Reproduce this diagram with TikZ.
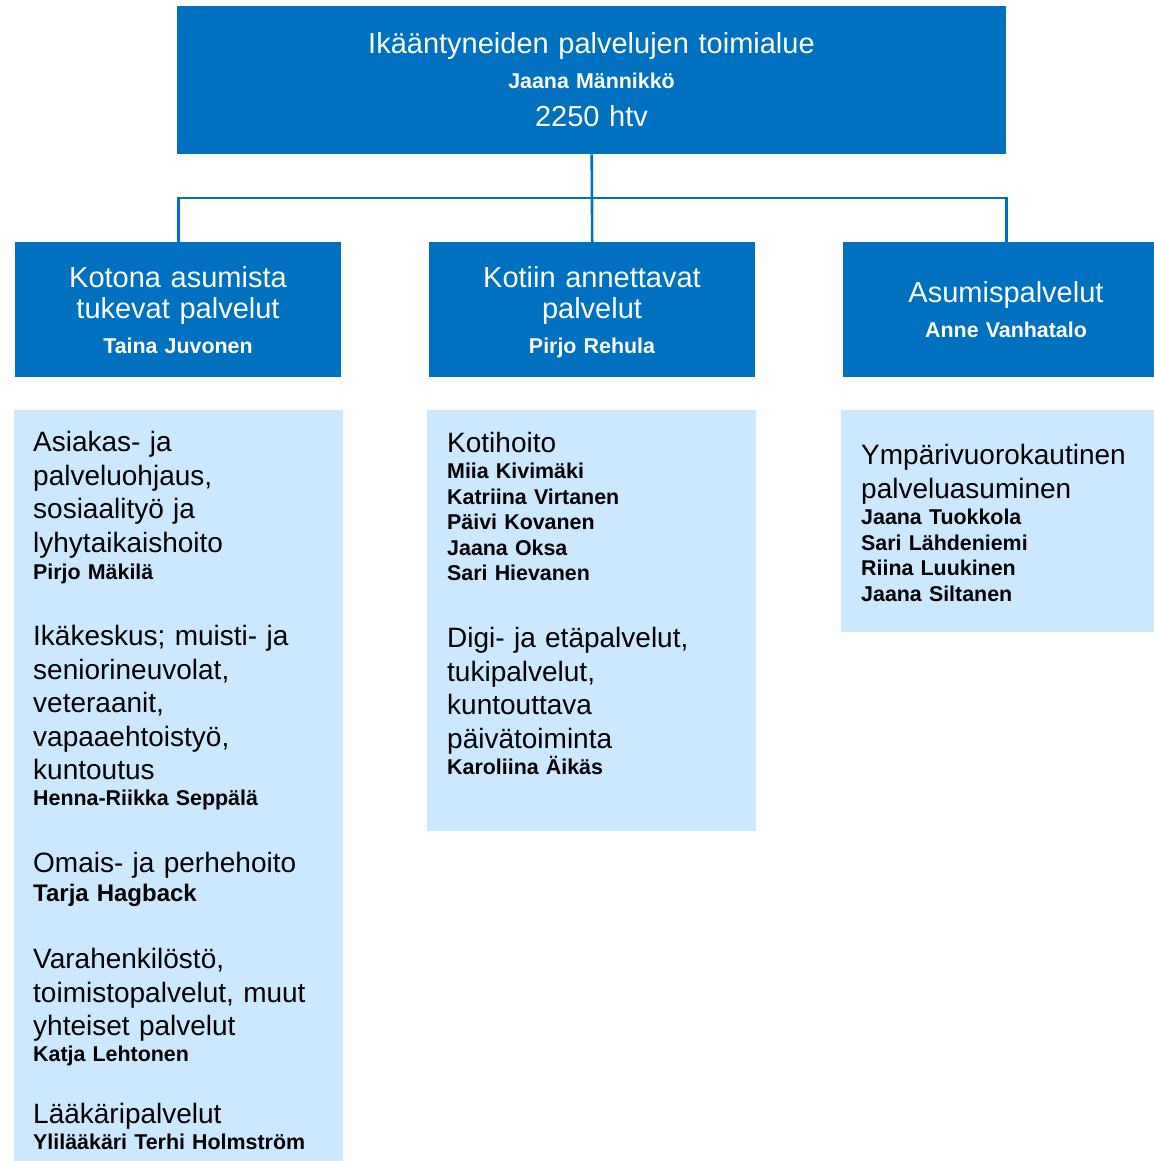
\documentclass[tikz,border=0pt]{standalone}
\usepackage{fontspec}
\setmainfont{Liberation Sans}
\usetikzlibrary{positioning}
\definecolor{tummasin}{RGB}{0,112,192}
\definecolor{vaaleasin}{RGB}{204,232,255}
\newcommand{\otsikko}{\fontsize{29}{31}\selectfont}
\newcommand{\isot}{\fontsize{28}{33.5}\selectfont}
\newcommand{\nimet}{\fontsize{21.4}{25.5}\selectfont\bfseries}

\begin{document}
\begin{tikzpicture}[x=1pt,y=-1pt,
	tumma/.style={fill=tummasin, inner sep=0, anchor=north west, minimum width=326, minimum height=135},
	vaalea/.style={fill=vaaleasin, inner sep=0, anchor=north west, minimum width=329},
	yhteys/.style={draw=tummasin, line width=2.6},
	keski/.style={text=white, inner sep=0, anchor=base, text width=326, align=center},
	vasen/.style={text=black, inner sep=0, anchor=base west, text width=300, align=left}]
		%%%%% START %%%%%
		\useasboundingbox (0,0) rectangle (1153,1161);
		
		% laatikot
		\node[tumma, minimum width=829, minimum height=148] (ilp) at (177,6) {};
		\node[tumma] (kotona) at (15,242) {};
		\node[tumma] (kotiin) at (429,242) {};
		\node[tumma] (asumis) at (843,242) {};
		
		\node[vaalea, minimum height=760] (kotona-l) at (14,410) {};
		\node[vaalea, minimum height=421] (kotiin-l) at (427,410) {};
		\node[vaalea, minimum height=222] (asumis-l) at (841,410) {};
		
		% yhteydet
		\coordinate (haara) at (592,198);
		\draw[yhteys] (ilp.south) -- (kotiin.north);
		\draw[yhteys] (kotona.north) |- (haara) -| (asumis.north);
		
		% toimialue
		\node[keski, font=\otsikko, text width=829] (ilp-t) at (591.5,53.5) {Ikääntyneiden palvelujen toimialue};
		\node[keski, font=\nimet] (ilp-n) at (591.5,89) {Jaana Männikkö};
		\node[keski, font=\otsikko] (ilp-h) at (591.5,127) {2250 htv};
		
		% palvelualueet
		\node[keski, font=\otsikko] (kotona-t) at (178,287.5) {Kotona asumista\\tukevat palvelut};
		\node[keski, font=\nimet] (kotona-n) at (178,353) {Taina Juvonen};
		\node[keski, font=\otsikko] (kotiin-t) at (592,287.5) {Kotiin annettavat\\palvelut};
		\node[keski, font=\nimet] (kotiin-n) at (592,353) {Pirjo Rehula};
		\node[keski, font=\otsikko] (asumis-t) at (1006,302.5) {Asumispalvelut};
		\node[keski, font=\nimet] (asumis-n) at (1006,337) {Anne Vanhatalo};
		
		% kotona asumista tukevat palvelut
		\node[vasen, font=\isot] (asiakas) at (33,451.5) {Asiakas- ja\\palveluohjaus,\\sosiaalityö ja\\lyhytaikaishoito};
		\node[vasen, font=\nimet] (asiakas-n) at (33,579) {Pirjo Mäkilä};
		\node[vasen, font=\isot] (ikakeskus) at (33,645.5) {Ikäkeskus; muisti- ja\\seniorineuvolat,\\veteraanit,\\vapaaehtoistyö,\\kuntoutus};
		\node[vasen, font=\nimet] (ikakeskus-n) at (33,805) {Henna-Riikka Seppälä};
		\node[vasen, font=\isot] (omais) at (33,872.5) {Omais- ja perhehoito};
		\node[vasen, font=\fontsize{24}{28}\selectfont\bfseries] (omais-n) at (33,901) {Tarja Hagback};
		\node[vasen, font=\isot] (vara) at (33,968.5) {Varahenkilöstö,\\toimistopalvelut, muut\\yhteiset palvelut};
		\node[vasen, font=\nimet] (vara-n) at (33,1061) {Katja Lehtonen};
		\node[vasen, font=\isot] (laakari) at (33,1123.5) {Lääkäripalvelut};
		\node[vasen, font=\nimet] (laakari-n) at (33,1149) {Ylilääkäri Terhi Holmström};
		
		% kotiin annettavat palvelut
		\node[vasen, font=\isot] (kotihoito) at (447,452.5) {Kotihoito};
		\node[vasen, font=\nimet] (kotihoito-n) at (447,478.5) {Miia Kivimäki\\Katriina Virtanen\\Päivi Kovanen\\Jaana Oksa\\Sari Hievanen};
		\node[vasen, font=\isot] (digi) at (447,647.5) {Digi- ja etäpalvelut,\\tukipalvelut,\\kuntouttava\\päivätoiminta};
		\node[vasen, font=\nimet] (digi-n) at (447,774) {Karoliina Äikäs};
		
		% asumispalvelut
		\node[vasen, font=\isot] (ymparivuoro) at (861,464.5) {Ympärivuorokautinen\\palveluasuminen};
		\node[vasen, font=\nimet] (ymparivuoro-n) at (861,524.5) {Jaana Tuokkola\\Sari Lähdeniemi\\Riina Luukinen\\Jaana Siltanen};
		%%%%% END %%%%%
\end{tikzpicture}
\end{document}
